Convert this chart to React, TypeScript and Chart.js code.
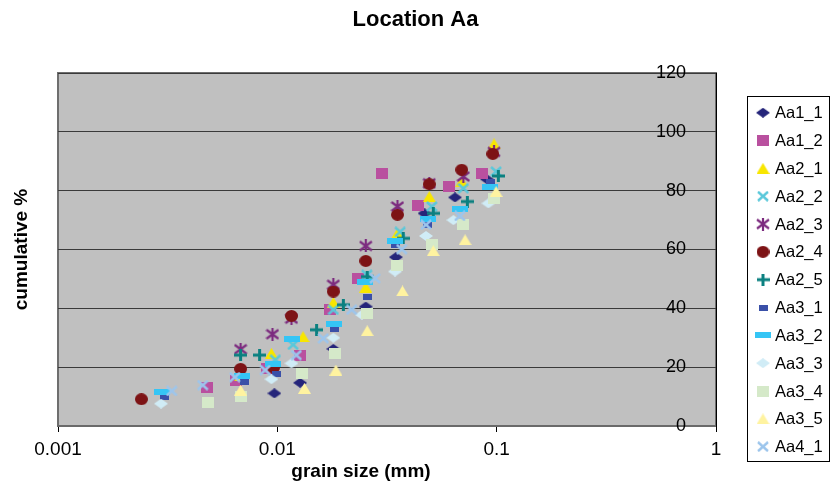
import React, { useEffect, useRef } from 'react';
import { Chart, registerables } from 'chart.js';
import { drawPoint } from 'chart.js/helpers';

Chart.register(...registerables);

// ---- data ----
const chartTitle = 'Location Aa';
const xTitle = 'grain size (mm)';
const yTitle = 'cumulative %';
const xTickValues = [0.001, 0.01, 0.1, 1];
const yMin = 0;
const yMax = 120;
const yStep = 20;

const seriesNames = ['Aa1_1', 'Aa1_2', 'Aa2_1', 'Aa2_2', 'Aa2_3', 'Aa2_4', 'Aa2_5', 'Aa3_1', 'Aa3_2', 'Aa3_3', 'Aa3_4', 'Aa3_5', 'Aa4_1'];

const Aa1_1: number[][] = [[0.0097, 11.1], [0.0127, 14.7], [0.018, 26.2], [0.0253, 40.6], [0.0347, 57.4], [0.0469, 72.3], [0.0646, 77.7], [0.0902, 83.9]];
const Aa1_2: number[][] = [[0.0048, 13.0], [0.0065, 15.5], [0.009, 19.4], [0.0127, 24.1], [0.0174, 39.5], [0.0234, 50.2], [0.0299, 85.7], [0.044, 74.8], [0.0608, 81.4], [0.0855, 85.7]];
const Aa2_1: number[][] = [[0.0068, 17.0], [0.0094, 24.7], [0.0131, 30.4], [0.018, 42.0], [0.0253, 47.2], [0.0353, 65.5], [0.0493, 78.0], [0.0693, 83.1], [0.0973, 95.9]];
const Aa2_2: number[][] = [[0.0098, 22.5], [0.0118, 27.6], [0.018, 39.5], [0.0256, 51.4], [0.0363, 66.0], [0.0506, 74.6], [0.0705, 80.8], [0.0994, 86.5]];
const Aa2_3: number[][] = [[0.0068, 26.1], [0.0095, 31.2], [0.0116, 36.5], [0.018, 48.0], [0.0253, 61.2], [0.0353, 74.6], [0.0493, 82.5], [0.0705, 84.8], [0.0973, 93.2]];
const Aa2_4: number[][] = [[0.0024, 9.1], [0.0068, 19.4], [0.0096, 19.8], [0.0116, 37.4], [0.018, 45.7], [0.0253, 56.1], [0.0353, 71.8], [0.0493, 82.2], [0.0693, 87.1], [0.096, 92.5]];
const Aa2_5: number[][] = [[0.0068, 24.1], [0.0083, 24.1], [0.0151, 32.7], [0.02, 41.2], [0.0257, 50.8], [0.0375, 63.8], [0.0514, 72.3], [0.0735, 76.3], [0.1018, 85.0]];
const Aa3_1: number[][] = [[0.00305, 9.8], [0.00705, 15.1], [0.0099, 17.7], [0.0183, 33.1], [0.0257, 44.0], [0.0344, 61.6], [0.0483, 68.4], [0.0934, 83.1]];
const Aa3_2: number[][] = [[0.00297, 11.7], [0.00688, 17.1], [0.0096, 21.0], [0.0117, 29.5], [0.0182, 34.7], [0.0251, 48.9], [0.0344, 62.9], [0.0488, 70.3], [0.068, 73.8], [0.0934, 81.2]];
const Aa3_3: number[][] = [[0.00295, 7.6], [0.0094, 15.9], [0.0116, 21.3], [0.018, 30.0], [0.0243, 37.8], [0.0344, 52.5], [0.0476, 64.6], [0.0635, 70.0], [0.0917, 75.7]];
const Aa3_4: number[][] = [[0.00485, 8.1], [0.0068, 10.0], [0.013, 17.7], [0.0183, 24.6], [0.0257, 38.1], [0.0353, 54.4], [0.0506, 61.6], [0.0705, 68.4], [0.0973, 77.4]];
const Aa3_5: number[][] = [[0.0068, 12.2], [0.0133, 12.8], [0.0185, 19.0], [0.0257, 32.4], [0.0372, 45.9], [0.0514, 59.6], [0.0718, 63.3], [0.0994, 79.7]];
const Aa4_1: number[][] = [[0.0033, 11.9], [0.00457, 13.9], [0.0064, 16.6], [0.0088, 19.0], [0.0122, 24.1], [0.0162, 29.8], [0.0218, 39.5], [0.0279, 50.2], [0.0369, 60.1], [0.0476, 68.4], [0.068, 71.4]];

const seriesData = [Aa1_1, Aa1_2, Aa2_1, Aa2_2, Aa2_3, Aa2_4, Aa2_5, Aa3_1, Aa3_2, Aa3_3, Aa3_4, Aa3_5, Aa4_1];

// ---- styles ----
const markerKinds = ['diamond', 'square', 'triangle', 'x', 'star', 'circle', 'plus', 'rect', 'bar', 'diamond', 'square', 'triangle', 'x'];
const markerColors = ['#25257A', '#B9509F', '#F8E600', '#5AC8DA', '#7C2B7F', '#7D1315', '#0B8080', '#3A50A8', '#35C5F5', '#D0ECF6', '#D5E9C9', '#FFF3A0', '#9CC5EC'];
const FONT = '"Liberation Sans", Arial, Helvetica, sans-serif';

function makeMarker(kind: string, color: string): HTMLCanvasElement {
  const c = document.createElement('canvas');
  let w = 12, h = 12;
  if (kind === 'diamond') { w = 14; h = 10; }
  else if (kind === 'square') { w = 12; h = 11; }
  else if (kind === 'triangle') { w = 13; h = 11; }
  else if (kind === 'x') { w = 12; h = 11; }
  else if (kind === 'star') { w = 14; h = 13; }
  else if (kind === 'circle') { w = 13; h = 12; }
  else if (kind === 'plus') { w = 13; h = 12; }
  else if (kind === 'rect') { w = 9; h = 6; }
  else if (kind === 'bar') { w = 16; h = 6; }
  c.width = w; c.height = h;
  const g = c.getContext('2d')!;
  g.fillStyle = color; g.strokeStyle = color;
  g.beginPath();
  switch (kind) {
    case 'diamond':
      g.moveTo(w / 2, 0); g.lineTo(w, h / 2); g.lineTo(w / 2, h); g.lineTo(0, h / 2); g.closePath(); g.fill();
      break;
    case 'square':
    case 'rect':
    case 'bar':
      g.fillRect(0, 0, w, h);
      break;
    case 'triangle':
      g.moveTo(w / 2, 0); g.lineTo(w, h); g.lineTo(0, h); g.closePath(); g.fill();
      break;
    case 'circle':
      g.ellipse(w / 2, h / 2, w / 2, h / 2, 0, 0, Math.PI * 2); g.fill();
      break;
    case 'x':
      g.lineWidth = 2.4;
      g.moveTo(1, 1); g.lineTo(w - 1, h - 1); g.moveTo(w - 1, 1); g.lineTo(1, h - 1); g.stroke();
      break;
    case 'star':
      g.lineWidth = 2.2;
      g.moveTo(1, 2); g.lineTo(w - 1, h - 2); g.moveTo(w - 1, 2); g.lineTo(1, h - 2);
      g.moveTo(w / 2, 0); g.lineTo(w / 2, h); g.stroke();
      break;
    case 'plus':
      g.lineWidth = 3;
      g.moveTo(0, h / 2); g.lineTo(w, h / 2); g.moveTo(w / 2, 0); g.lineTo(w / 2, h); g.stroke();
      break;
  }
  return c;
}

export default function App() {
  const ref = useRef<HTMLCanvasElement | null>(null);
  useEffect(() => {
    if (!ref.current) return;
    Chart.defaults.font.family = FONT;
    Chart.defaults.color = '#000';
    const markers = markerKinds.map((k, i) => makeMarker(k, markerColors[i]));
    const n = seriesNames.length;

    const datasets = seriesNames.map((name, i) => ({
      label: name,
      data: seriesData[i].map(([x, y]) => ({ x, y })),
      pointStyle: markers[i],
      pointRadius: 6,
      pointHoverRadius: 6,
      showLine: false,
      xAxisID: 'x',
      yAxisID: 'y',
      order: n - 1 - i,
    }));

    const plotBg = {
      id: 'plotBg',
      beforeDraw(chart: any) {
        const { ctx, chartArea: a } = chart;
        ctx.save();
        ctx.fillStyle = '#C0C0C0';
        ctx.fillRect(a.left, a.top, a.right - a.left, a.bottom - a.top);
        ctx.strokeStyle = '#6e6e6e';
        ctx.lineWidth = 2;
        ctx.strokeRect(a.left, a.top, a.right - a.left, a.bottom - a.top);
        ctx.restore();
      },
    };

    const extras = {
      id: 'extras',
      afterDraw(chart: any) {
        const ctx = chart.ctx;
        ctx.save();
        // x axis title
        ctx.font = `bold 19px ${FONT}`;
        ctx.fillStyle = '#000';
        ctx.textAlign = 'center';
        ctx.textBaseline = 'middle';
        ctx.fillText(xTitle, 361, 472);
        // legend
        ctx.strokeStyle = '#000';
        ctx.lineWidth = 1;
        ctx.strokeRect(747.5, 96.5, 82, 365);
        ctx.font = `16.5px ${FONT}`;
        ctx.textAlign = 'left';
        seriesNames.forEach((name, i) => {
          const y = 112.7 + i * 27.83;
          drawPoint(ctx, { pointStyle: markers[i], radius: 6, rotation: 0, borderWidth: 0 } as any, 763, y);
          ctx.fillStyle = '#000';
          ctx.fillText(name, 775, y + 1);
        });
        ctx.restore();
      },
    };

    const chart = new Chart(ref.current, {
      type: 'scatter',
      data: { datasets: datasets as any },
      plugins: [plotBg, extras],
      options: {
        animation: false,
        responsive: false,
        devicePixelRatio: 1,
        layout: { padding: { left: 0, right: 0, top: 0, bottom: 0 } },
        plugins: {
          legend: { display: false },
          tooltip: { enabled: false },
          title: {
            display: true,
            text: chartTitle,
            color: '#000',
            font: { size: 22, weight: 'bold', family: FONT },
            padding: { top: 7, bottom: 39.6 },
          },
        },
        scales: {
          x: {
            type: 'logarithmic',
            position: 'bottom',
            min: xTickValues[0],
            max: xTickValues[xTickValues.length - 1],
            afterBuildTicks: (s: any) => { s.ticks = xTickValues.map((v) => ({ value: v })); },
            afterFit: (s: any) => { s.height = 61; },
            ticks: {
              autoSkip: false,
              maxRotation: 0,
              padding: 6,
              font: { size: 19, family: FONT },
              color: '#000',
              callback: (v: any) => String(v),
            },
            grid: { drawOnChartArea: false, drawTicks: true, tickLength: 6, color: '#000', lineWidth: 1 },
            border: { display: true, color: '#6a6a6a', width: 2 },
          },
          y: {
            type: 'linear',
            position: 'right',
            min: yMin,
            max: yMax,
            afterFit: (s: any) => { s.width = 115; },
            ticks: {
              stepSize: yStep,
              mirror: true,
              padding: -30,
              font: { size: 18, family: FONT },
              color: '#000',
            },
            grid: { drawOnChartArea: true, drawTicks: false, color: '#3a3a3a', lineWidth: 1 },
            border: { display: true, color: '#000', width: 1 },
          },
          yl: {
            type: 'linear',
            position: 'left',
            afterFit: (s: any) => { s.width = 58; },
            ticks: { display: false },
            grid: { display: false, drawTicks: false },
            border: { display: false },
            title: {
              display: true,
              text: yTitle,
              color: '#000',
              font: { size: 19, weight: 'bold', family: FONT },
              padding: { top: 10, bottom: 0 },
            },
          },
        },
      } as any,
    });
    return () => chart.destroy();
  }, []);

  return (
    <div style={{ position: 'absolute', left: 0, top: 0, width: 831, height: 487, background: '#fff' }}>
      <canvas ref={ref} width={831} height={487} />
    </div>
  );
}
